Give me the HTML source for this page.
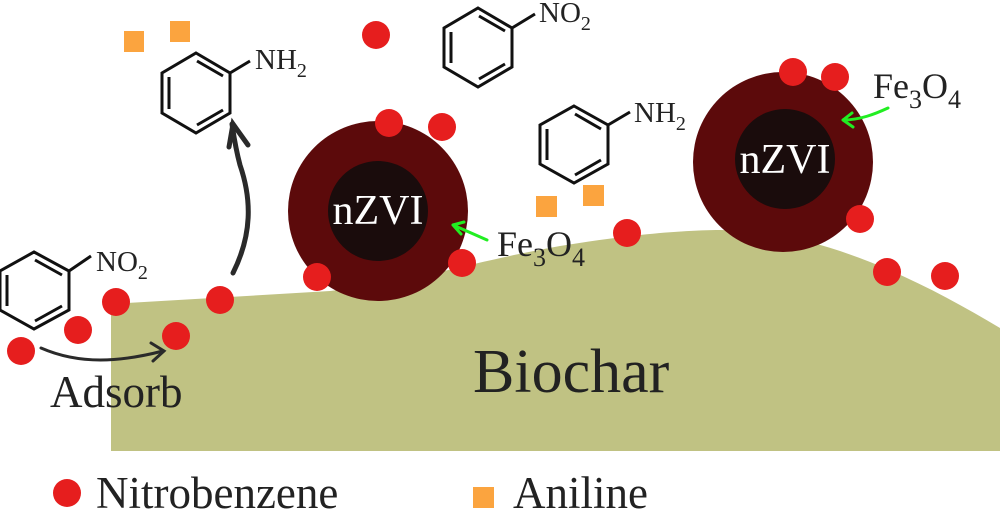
<!DOCTYPE html>
<html><head><meta charset="utf-8"><style>
html,body{margin:0;padding:0;background:#fff;}
svg{display:block;font-family:"Liberation Serif",serif;}
</style></head><body>
<svg width="1000" height="523" viewBox="0 0 1000 523" xmlns="http://www.w3.org/2000/svg">
<path d="M111,304 L330,291 C420,281 470,262 560,246 C620,236 680,230 720,230 C820,230 920,280 1000,328 L1000,451 L111,451 Z" fill="#c0c283"/>
<circle cx="378" cy="211" r="90" fill="#5c0a0b"/>
<circle cx="378" cy="211" r="50" fill="#1a0c0c"/>
<text x="378" y="224" font-size="42" fill="#fff" text-anchor="middle">nZVI</text>
<circle cx="783" cy="162" r="90" fill="#5c0a0b"/>
<circle cx="785" cy="159" r="50" fill="#1a0c0c"/>
<text x="785" y="173" font-size="42" fill="#fff" text-anchor="middle">nZVI</text>
<g fill="#e61e1e">
<circle cx="376" cy="35" r="14"/><circle cx="389" cy="123" r="14"/><circle cx="442" cy="127" r="14"/>
<circle cx="462" cy="263" r="14"/><circle cx="317" cy="277" r="14"/><circle cx="220" cy="300" r="14"/>
<circle cx="116" cy="302" r="14"/><circle cx="78" cy="330" r="14"/><circle cx="21" cy="351" r="14"/>
<circle cx="176" cy="336" r="14"/><circle cx="793" cy="72" r="14"/><circle cx="835" cy="77" r="14"/>
<circle cx="860" cy="219" r="14"/><circle cx="627" cy="233" r="14"/><circle cx="887" cy="272" r="14"/>
<circle cx="945" cy="276" r="14"/><circle cx="67" cy="493" r="14"/>
</g>
<g fill="#fba43f">
<rect x="124" y="31" width="20" height="21"/><rect x="170" y="21" width="20" height="21"/>
<rect x="536" y="196" width="21" height="21"/><rect x="583" y="185" width="21" height="21"/>
<rect x="473" y="487" width="21" height="21"/>
</g>
<g stroke="#111" stroke-width="3" fill="none" stroke-linejoin="miter">
<path d="M196,53 L230,73 L230,113 L196,133 L162,113 L162,73 Z M230,73 L250,61"/>
<path d="M197,61 L223,76 M169,77 L169,109 M197,125 L223,110"/>
<path d="M478,8 L512,28 L512,67 L478,87 L444,67 L444,28 Z M512,28 L535,14"/>
<path d="M479,16 L505,31 M451,32 L451,63 M479,79 L505,64"/>
<path d="M574,106 L608,125 L608,164 L574,183 L540,164 L540,125 Z M608,125 L630,112"/>
<path d="M575,114 L601,129 M547,129 L547,160 M575,175 L601,160"/>
<path d="M34,252 L69,271 L69,310 L34,329 L0,310 L0,271 Z M69,271 L91,256"/>
<path d="M35,260 L62,275 M7,275 L7,306 M35,321 L62,306"/>
</g>
<g font-size="29" fill="#222">
<text x="255" y="69">NH<tspan font-size="20" dy="8">2</tspan></text>
<text x="539" y="22">NO<tspan font-size="20" dy="8">2</tspan></text>
<text x="634" y="122">NH<tspan font-size="20" dy="8">2</tspan></text>
<text x="96" y="271">NO<tspan font-size="20" dy="8">2</tspan></text>
</g>
<g stroke="#2a2a2a" stroke-width="5" fill="none" stroke-linecap="round">
<path d="M233,273 C252,235 252,200 240,165 C236,150 234,138 232,124"/>
<path d="M229,147 L233,124 L248,145"/>
</g>
<g stroke="#2a2a2a" stroke-width="3" fill="none" stroke-linecap="round">
<path d="M41,348 C80,365 120,362 163,351"/>
<path d="M151,343 L164,351 L153,361"/>
</g>
<g stroke="#22ee22" stroke-width="3" fill="none" stroke-linecap="round">
<path d="M487,240 L453,225 M453,225 L461,234 M453,225 L464,222"/>
<path d="M888,108 C875,114 860,120 843,120 M843,120 L852,113 M843,120 L853,127"/>
</g>
<g fill="#222">
<text x="497" y="256" font-size="36">Fe<tspan font-size="26" dy="10">3</tspan><tspan dy="-10">O</tspan><tspan font-size="26" dy="10">4</tspan></text>
<text x="873" y="98" font-size="36">Fe<tspan font-size="26" dy="10">3</tspan><tspan dy="-10">O</tspan><tspan font-size="26" dy="10">4</tspan></text>
<text x="50" y="407" font-size="45">Adsorb</text>
<text x="473" y="392" font-size="62">Biochar</text>
<text x="96" y="508" font-size="45">Nitrobenzene</text>
<text x="513" y="508" font-size="45">Aniline</text>
</g>
</svg>
</body></html>
